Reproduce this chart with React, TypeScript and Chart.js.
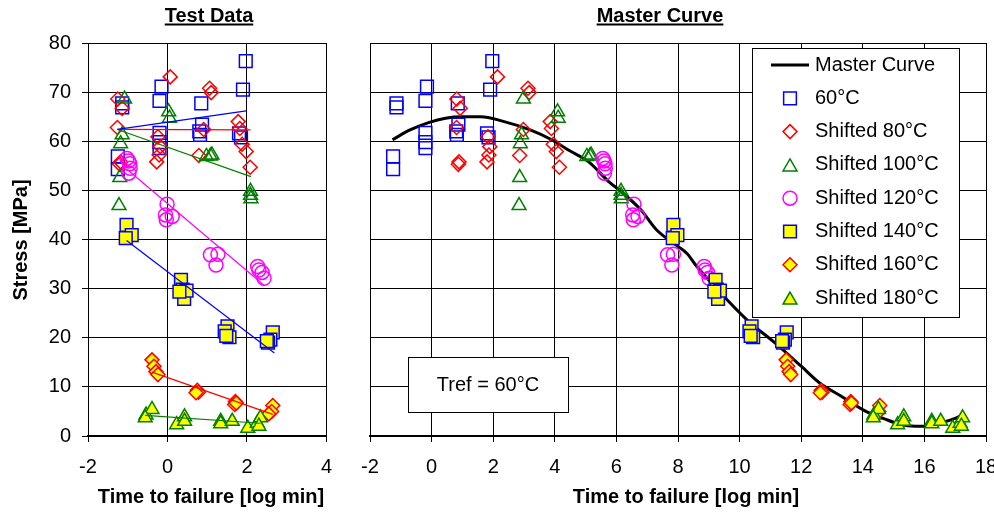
import React, { useEffect, useRef } from "react";
import { Chart, registerables } from "chart.js";
import { drawPoint } from "chart.js/helpers";

Chart.register(...registerables);

const FONT = '"Liberation Sans", Arial, Helvetica, sans-serif';

// ---------- data ----------
const seriesLabels = ["60°C", "Shifted 80°C", "Shifted 100°C", "Shifted 120°C", "Shifted 140°C", "Shifted 160°C", "Shifted 180°C"];
// log time shift factors per temperature (reference 60°C)
const shiftFactors = [0, 2.07, 4.06, 6.58, 8.88, 11.9, 14.9];

const t60X = [-1.14, -1.14, -1.25, -1.25, -0.15, -0.2, -0.2, -0.2, -0.2, 0.85, 0.87, 0.82, 0.8, 1.97, 1.9, 1.8, 1.85];
const t60Y = [67.7, 66.9, 56.9, 54.3, 71.1, 68.2, 61.7, 59.8, 58.6, 67.7, 63.4, 61.3, 62.0, 76.3, 70.5, 61.6, 60.8];

const t80X = [0.07, -1.25, -1.14, -1.26, -1.18, -1.2, -0.24, -0.18, -0.21, -0.27, 0.91, 0.79, 1.06, 1.1, 1.78, 1.82, 1.88, 1.98, 2.08];
const t80Y = [73.1, 68.6, 66.7, 62.8, 55.8, 55.3, 60.9, 58.9, 57.2, 55.8, 62.4, 57.1, 70.8, 69.9, 64.0, 62.6, 59.4, 57.9, 54.7];

const t100X = [-1.08, 0.03, 0.05, -1.14, -1.18, -1.2, -1.22, 0.98, 1.08, 1.12, 2.09, 2.09, 2.1];
const t100Y = [68.6, 66.0, 64.7, 61.3, 59.5, 52.6, 46.9, 56.9, 57.0, 57.2, 49.8, 49.0, 48.3];

const t120X = [-1.02, -0.98, -0.95, -0.94, -0.97, -0.01, -0.05, -0.03, 0.12, 1.08, 1.27, 1.22, 2.27, 2.3, 2.38, 2.43];
const t120Y = [56.5, 56.0, 55.4, 54.5, 53.5, 47.2, 45.0, 44.0, 44.7, 36.9, 37.0, 34.8, 34.5, 33.8, 33.3, 32.1];

const t140X = [-1.03, -0.9, -1.05, 0.34, 0.38, 0.42, 0.48, 0.3, 1.51, 1.44, 1.56, 1.48, 2.65, 2.59, 2.53, 2.5];
const t140Y = [43.0, 40.9, 40.3, 31.8, 29.8, 27.9, 29.6, 29.4, 22.3, 21.3, 20.1, 20.4, 21.1, 19.6, 19.0, 19.3];

const t160X = [-0.39, -0.34, -0.29, -0.24, 0.75, 0.78, 0.72, 1.71, 1.69, 1.73, 2.65, 2.62, 2.55];
const t160Y = [15.5, 14.2, 13.1, 12.5, 9.3, 8.9, 8.8, 7.0, 6.4, 6.7, 6.2, 5.0, 4.5];

const t180X = [-0.54, -0.39, -0.56, 0.23, 0.43, 0.43, 1.34, 1.34, 1.63, 2.02, 2.26, 2.34, 2.3];
const t180Y = [4.3, 5.4, 3.7, 2.3, 3.9, 3.0, 3.0, 2.5, 3.0, 1.6, 2.6, 3.7, 2.0];

// linear trend lines of the test data (end points)
const trend60X = [-1.26, 1.98];
const trend60Y = [62.4, 66.2];
const trend80X = [-1.26, 2.09];
const trend80Y = [62.4, 62.3];
const trend100X = [-1.26, 2.1];
const trend100Y = [62.4, 52.8];
const trend120X = [-1.02, 2.43];
const trend120Y = [54.3, 30.7];
const trend140X = [-1.03, 2.69];
const trend140Y = [39.8, 16.9];
const trend160X = [-0.39, 2.65];
const trend160Y = [13.0, 4.4];
const trend180X = [-0.56, 2.34];
const trend180Y = [4.2, 2.6];

// master curve
const masterX = [-1.27, -0.7, -0.1, 0.45, 1.0, 1.6, 2.3, 3.2, 3.9, 4.5, 5.1, 5.75, 6.2, 6.8, 7.3, 8.0, 8.3, 8.6, 9.6, 10.3, 11.1, 12.0, 12.6, 13.3, 14.1, 14.7, 15.2, 15.7, 16.1, 16.5, 17.0, 17.25];
const masterY = [60.3, 62.3, 63.8, 64.7, 65.0, 65.0, 64.1, 62.3, 60.3, 58.0, 55.8, 51.8, 49.5, 46.0, 42.0, 38.6, 37.1, 34.6, 27.7, 23.3, 19.2, 14.2, 10.8, 8.1, 5.0, 3.5, 2.4, 2.0, 2.0, 2.6, 3.6, 4.3];

const yTicks = [0, 10, 20, 30, 40, 50, 60, 70, 80];
const xTicksLeft = [-2, 0, 2, 4];
const xTicksRight = [-2, 0, 2, 4, 6, 8, 10, 12, 14, 16, 18];

const seriesX = [t60X, t80X, t100X, t120X, t140X, t160X, t180X];
const seriesY = [t60Y, t80Y, t100Y, t120Y, t140Y, t160Y, t180Y];
const trendX = [trend60X, trend80X, trend100X, trend120X, trend140X, trend160X, trend180X];
const trendY = [trend60Y, trend80Y, trend100Y, trend120Y, trend140Y, trend160Y, trend180Y];

// ---------- styles ----------
const markerStyles = [
  { pointStyle: "rect", radius: 9, fill: "rgba(0,0,0,0)", stroke: "#0000FF" },
  { pointStyle: "rectRot", radius: 7, fill: "rgba(0,0,0,0)", stroke: "#FF0000" },
  { pointStyle: "triangle", radius: 8, fill: "rgba(0,0,0,0)", stroke: "#008000" },
  { pointStyle: "circle", radius: 7, fill: "rgba(0,0,0,0)", stroke: "#FF00FF" },
  { pointStyle: "rect", radius: 9, fill: "#FFFF00", stroke: "#0000FF" },
  { pointStyle: "rectRot", radius: 7, fill: "#FFFF00", stroke: "#FF0000" },
  { pointStyle: "triangle", radius: 8, fill: "#FFFF00", stroke: "#008000" },
];
const trendColors = ["#0000FF", "#FF0000", "#008000", "#FF00FF", "#0000FF", "#FF0000", "#008000"];

function pts(xs: number[], ys: number[], shift = 0) {
  return xs.map((x, i) => ({ x: x + shift, y: ys[i] }));
}

function markerDataset(i: number, shift: number) {
  const s = markerStyles[i];
  return {
    label: seriesLabels[i],
    data: pts(seriesX[i], seriesY[i], shift),
    showLine: false,
    pointStyle: s.pointStyle,
    pointRadius: s.radius,
    pointBackgroundColor: s.fill,
    pointBorderColor: s.stroke,
    pointBorderWidth: 1.5,
    order: 10 - i,
  };
}

function xAxis(ticks: number[], height: number) {
  return {
    type: "linear",
    min: ticks[0],
    max: ticks[ticks.length - 1],
    afterBuildTicks: (scale: any) => {
      scale.ticks = ticks.map((v) => ({ value: v }));
    },
    afterFit: (scale: any) => {
      scale.height = height;
    },
    grid: { color: "#000", lineWidth: 1, tickLength: 6, drawTicks: true },
    border: { color: "#000", width: 2 },
    ticks: {
      font: { family: FONT, size: 20 },
      color: "#000",
      padding: 13,
      maxRotation: 0,
      autoSkip: false,
    },
  };
}

function yAxis(width: number, showLabels: boolean) {
  return {
    type: "linear",
    min: yTicks[0],
    max: yTicks[yTicks.length - 1],
    afterBuildTicks: (scale: any) => {
      scale.ticks = yTicks.map((v) => ({ value: v }));
    },
    afterFit: (scale: any) => {
      scale.width = width;
    },
    grid: { color: "#000", lineWidth: 1, tickLength: 6, drawTicks: showLabels },
    border: { color: "#000", width: 1 },
    ticks: {
      display: showLabels,
      font: { family: FONT, size: 20 },
      color: "#000",
      padding: 11,
      autoSkip: false,
    },
  };
}

function drawTitle(ctx: CanvasRenderingContext2D, text: string, cx: number) {
  ctx.font = `bold 20px ${FONT}`;
  ctx.fillStyle = "#000";
  ctx.textAlign = "center";
  ctx.textBaseline = "alphabetic";
  ctx.fillText(text, cx, 22);
  const w = ctx.measureText(text).width;
  ctx.fillRect(cx - w / 2, 23.5, w, 2);
}

function drawXTitle(ctx: CanvasRenderingContext2D, cx: number) {
  ctx.font = `bold 20px ${FONT}`;
  ctx.fillStyle = "#000";
  ctx.textAlign = "center";
  ctx.textBaseline = "alphabetic";
  ctx.fillText("Time to failure [log min]", cx, 503);
}

const leftTextPlugin = {
  id: "leftTexts",
  afterDraw(chart: any) {
    const ctx = chart.ctx as CanvasRenderingContext2D;
    ctx.save();
    drawTitle(ctx, "Test Data", 209);
    drawXTitle(ctx, 211);
    ctx.translate(27, 240);
    ctx.rotate(-Math.PI / 2);
    ctx.font = `bold 20px ${FONT}`;
    ctx.textAlign = "center";
    ctx.textBaseline = "alphabetic";
    ctx.fillText("Stress [MPa]", 0, 0);
    ctx.restore();
  },
};

const RIGHT_OFFSET = 345;

const rightTextPlugin = {
  id: "rightTexts",
  afterDraw(chart: any) {
    const ctx = chart.ctx as CanvasRenderingContext2D;
    const o = RIGHT_OFFSET;
    ctx.save();
    drawTitle(ctx, "Master Curve", 660 - o);
    drawXTitle(ctx, 686 - o);

    // Tref box
    ctx.fillStyle = "#fff";
    ctx.fillRect(408 - o, 357, 160, 55);
    ctx.strokeStyle = "#000";
    ctx.lineWidth = 1;
    ctx.strokeRect(408 - o + 0.5, 357.5, 160, 55);
    ctx.fillStyle = "#000";
    ctx.font = `20px ${FONT}`;
    ctx.textAlign = "center";
    ctx.textBaseline = "middle";
    ctx.fillText("Tref = 60°C", 488 - o, 385);

    // legend
    const bx = 752 - o;
    const by = 48;
    ctx.fillStyle = "#fff";
    ctx.fillRect(bx, by, 207, 269);
    ctx.strokeStyle = "#000";
    ctx.lineWidth = 1;
    ctx.strokeRect(bx + 0.5, by + 0.5, 207, 269);
    const rowY0 = 65;
    const dy = 33.3;
    const mx = 790 - o;
    const tx = 815 - o;
    ctx.beginPath();
    ctx.moveTo(771 - o, rowY0);
    ctx.lineTo(809 - o, rowY0);
    ctx.lineWidth = 3;
    ctx.strokeStyle = "#000";
    ctx.stroke();
    ctx.fillStyle = "#000";
    ctx.font = `20px ${FONT}`;
    ctx.textAlign = "left";
    ctx.textBaseline = "middle";
    ctx.fillText("Master Curve", tx, rowY0);
    for (let i = 0; i < seriesLabels.length; i++) {
      const y = rowY0 + (i + 1) * dy;
      const s = markerStyles[i];
      ctx.save();
      ctx.fillStyle = s.fill;
      ctx.strokeStyle = s.stroke;
      ctx.lineWidth = 1.5;
      drawPoint(ctx, { pointStyle: s.pointStyle as any, radius: s.radius, rotation: 0, borderWidth: 1.5 } as any, mx, y + (s.pointStyle === "triangle" ? 2 : 0));
      ctx.restore();
      ctx.fillStyle = "#000";
      ctx.fillText(seriesLabels[i], tx, y);
    }
    ctx.restore();
  },
};

function LeftChart() {
  const ref = useRef<HTMLCanvasElement>(null);
  useEffect(() => {
    const datasets: any[] = [];
    for (let i = 0; i < seriesX.length; i++) {
      datasets.push({
        label: "trend " + seriesLabels[i],
        data: pts(trendX[i], trendY[i]),
        showLine: true,
        borderColor: trendColors[i],
        borderWidth: 1.2,
        pointRadius: 0,
        order: 0,
      });
      datasets.push(markerDataset(i, 0));
    }
    const chart = new Chart(ref.current as HTMLCanvasElement, {
      type: "scatter",
      data: { datasets },
      options: {
        responsive: false,
        devicePixelRatio: 1,
        animation: false,
        layout: { padding: { top: 43, left: 0, right: 15, bottom: 0 } },
        plugins: { legend: { display: false }, tooltip: { enabled: false }, title: { display: false } },
        events: [],
        scales: {
          x: xAxis(xTicksLeft, 76) as any,
          y: yAxis(88, true) as any,
        },
      },
      plugins: [leftTextPlugin],
    });
    return () => chart.destroy();
  }, []);
  return <canvas ref={ref} width={345} height={512} style={{ position: "absolute", left: 0, top: 0 }} />;
}

function RightChart() {
  const ref = useRef<HTMLCanvasElement>(null);
  useEffect(() => {
    const datasets: any[] = [
      {
        label: "Master Curve",
        data: pts(masterX, masterY),
        showLine: true,
        borderColor: "#000",
        borderWidth: 3,
        pointRadius: 0,
        tension: 0.4,
        cubicInterpolationMode: "monotone",
        order: 20,
      },
    ];
    for (let i = 0; i < seriesX.length; i++) {
      datasets.push(markerDataset(i, shiftFactors[i]));
    }
    const chart = new Chart(ref.current as HTMLCanvasElement, {
      type: "scatter",
      data: { datasets },
      options: {
        responsive: false,
        devicePixelRatio: 1,
        animation: false,
        layout: { padding: { top: 43, left: 0, right: 39, bottom: 0 } },
        plugins: { legend: { display: false }, tooltip: { enabled: false }, title: { display: false } },
        events: [],
        scales: {
          x: xAxis(xTicksRight, 76) as any,
          y: yAxis(25, false) as any,
        },
      },
      plugins: [rightTextPlugin],
    });
    return () => chart.destroy();
  }, []);
  return (
    <canvas
      ref={ref}
      width={680}
      height={512}
      style={{ position: "absolute", left: RIGHT_OFFSET, top: 0 }}
    />
  );
}

export default function App() {
  return (
    <div
      style={{
        position: "absolute",
        left: 0,
        top: 0,
        width: 994,
        height: 512,
        overflow: "hidden",
        background: "#fff",
      }}
    >
      <LeftChart />
      <RightChart />
    </div>
  );
}
